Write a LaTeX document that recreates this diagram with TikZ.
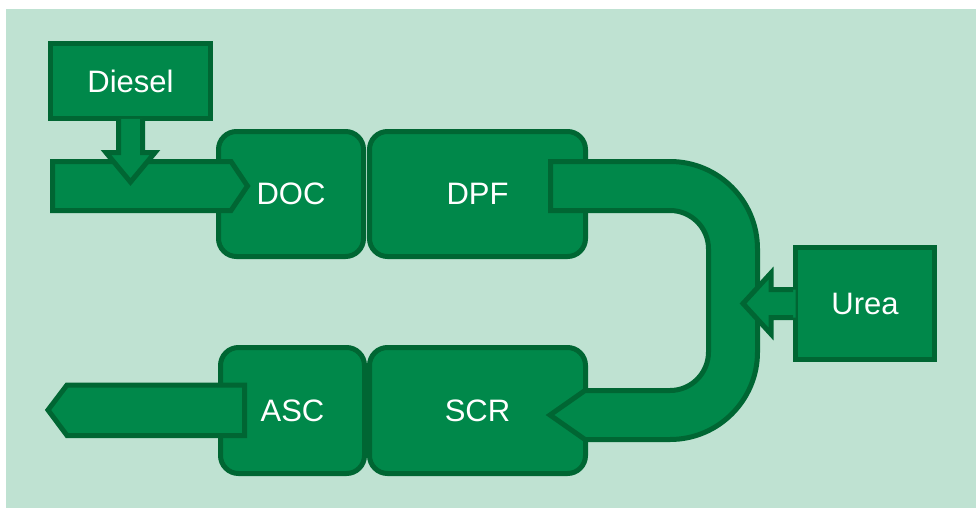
\documentclass[tikz,border=0pt]{standalone}
\usepackage{fontspec}
\setmainfont{Liberation Sans}
\usepackage{tikz}
\usetikzlibrary{calc}
\definecolor{bgmint}{RGB}{191,226,210}
\definecolor{unitfill}{RGB}{0,136,74}
\definecolor{unitedge}{RGB}{0,102,51}
\tikzset{
  unitbox/.style={draw=unitedge, fill=unitfill, line width=5pt, rounded corners=18pt,
    text=white, font=\fontsize{31}{36}\selectfont, inner sep=0pt},
  feedbox/.style={draw=unitedge, fill=unitfill, line width=5pt,
    text=white, font=\fontsize{31}{36}\selectfont, inner sep=0pt},
  flowarrow/.style={draw=unitedge, fill=unitfill, line width=5pt},
  flowedge/.style={draw=unitedge, line width=5pt},
}

\begin{document}
\begin{tikzpicture}[x=1pt, y=-1pt]
    \useasboundingbox (0,0) rectangle (976,508);
    \fill[bgmint] (6,9) rectangle (976,508);
    % catalyst blocks
    \node[unitbox, minimum width=145pt, minimum height=125pt] (doc) at (291,194) {DOC};
    \node[unitbox, minimum width=216pt, minimum height=125pt] (dpf) at (477.5,194) {DPF};
    \node[unitbox, minimum width=144pt, minimum height=126pt] (asc) at (292.5,410.5) {ASC};
    \node[unitbox, minimum width=216pt, minimum height=126pt] (scr) at (477.5,410.5) {SCR};
    % inlet
    \draw[flowarrow] (52.5,161.5) -- (231,161.5) -- (247.5,186) -- (231,210.5)
      -- (52.5,210.5) -- cycle;
    % diesel dosing
    \node[feedbox, minimum width=160pt, minimum height=75pt] (diesel) at (130.5,81) {Diesel};
    \fill[unitfill] ($(diesel.south)+(-12,-2)$) -- ++(0,33.5) -- ++(-12.5,0)
      -- (diesel.south |- 0,182) -- ($(diesel.south)+(24.5,31.5)$) -- ++(-12.5,0)
      -- ++(0,-33.5) -- cycle;
    \draw[flowedge] ($(diesel.south)+(-12,-2)$) -- ++(0,33.5) -- ++(-12.5,0)
      -- (diesel.south |- 0,182) -- ($(diesel.south)+(24.5,31.5)$) -- ++(-12.5,0)
      -- ++(0,-33.5);
    % bend from DPF to SCR
    \draw[flowarrow] (550.5,161.5) -- (670,161.5)
      arc[start angle=270, end angle=360, radius=87.5] -- (757.5,352)
      arc[start angle=0, end angle=90, radius=87.5] -- (585,439.5)
      -- (550,415) -- (585,390.5) -- (670,390.5)
      arc[start angle=90, end angle=0, radius=38.5] -- (708.5,249)
      arc[start angle=0, end angle=-90, radius=38.5] -- (550.5,210.5) -- cycle;
    % urea dosing
    \node[feedbox, minimum width=139pt, minimum height=112pt] (urea) at (865,303.5) {Urea};
    \fill[unitfill] ($(urea.west)+(2.5,-14)$) -- (771,289.5) -- (771,273) -- (743,303.5)
      -- (771,334) -- (771,317.5) -- ($(urea.west)+(2.5,14)$) -- cycle;
    \draw[flowedge] (urea.west |- 0,289.5) -- (771,289.5) -- (771,273) -- (743,303.5)
      -- (771,334) -- (771,317.5) -- (urea.west |- 0,317.5);
    % outlet
    \draw[flowarrow] (244.5,385) -- (67,385) -- (48,410) -- (67,435.5)
      -- (244.5,435.5) -- cycle;
\end{tikzpicture}
\end{document}
